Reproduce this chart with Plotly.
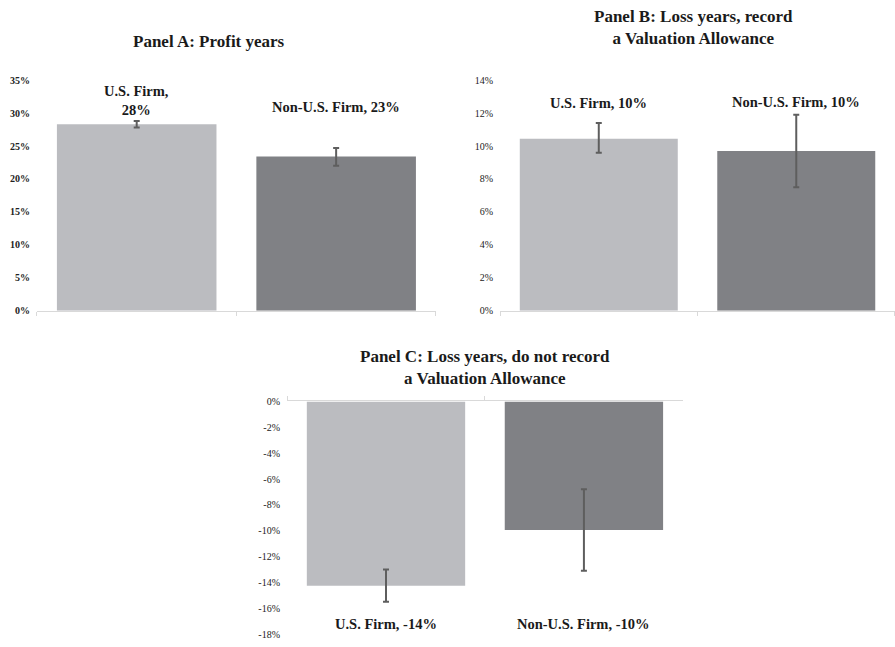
import plotly.graph_objects as go

# Firm groups and mean values (percent) for each panel
firms = ["U.S. Firm", "Non-U.S. Firm"]

profit_vals = [28.3, 23.4]
profit_err_hi = [28.8, 24.7]
profit_err_lo = [27.8, 22.0]

loss_va_vals = [10.45, 9.7]
loss_va_err_hi = [11.4, 11.9]
loss_va_err_lo = [9.6, 7.5]

loss_nova_vals = [-14.25, -9.95]
loss_nova_err_hi = [-13.0, -6.8]
loss_nova_err_lo = [-15.5, -13.1]

tick_a = [0, 5, 10, 15, 20, 25, 30, 35]
tick_b = [0, 2, 4, 6, 8, 10, 12, 14]
tick_c = [0, -2, -4, -6, -8, -10, -12, -14, -16, -18]

bar_colors = ["#bbbcc0", "#808185"]
err_color = "#5e5e5e"
serif = "Liberation Serif, Times New Roman, Times, serif"

fig = go.Figure()


def add_panel(vals, hi, lo, xa, ya):
    fig.add_trace(go.Bar(
        x=firms, y=vals, xaxis=xa, yaxis=ya,
        marker=dict(color=bar_colors, line=dict(width=0)),
        error_y=dict(type="data", symmetric=False,
                     array=[h - v for h, v in zip(hi, vals)],
                     arrayminus=[v - l for l, v in zip(lo, vals)],
                     color=err_color, thickness=2, width=3),
        showlegend=False, hoverinfo="skip"))


add_panel(profit_vals, profit_err_hi, profit_err_lo, "x", "y")
add_panel(loss_va_vals, loss_va_err_hi, loss_va_err_lo, "x2", "y2")
add_panel(loss_nova_vals, loss_nova_err_hi, loss_nova_err_lo, "x3", "y3")


def xaxis(domain, anchor, side="bottom"):
    return dict(domain=domain, anchor=anchor, side=side, showline=True,
                linecolor="#d9d9d9", linewidth=1, ticks="outside",
                tickson="boundaries", ticklen=4, tickcolor="#d9d9d9",
                showticklabels=False, showgrid=False, zeroline=False,
                fixedrange=True)


def yaxis(domain, anchor, rng, tickvals, size, bold):
    return dict(domain=domain, anchor=anchor, range=rng, tickvals=tickvals,
                ticktext=[f"{t}%" for t in tickvals], showgrid=False,
                zeroline=False, showline=False, ticks="",
                ticklabelstandoff=6,
                tickfont=dict(family=serif, size=size, color="#222222",
                              weight="bold" if bold else "normal"),
                fixedrange=True)


fig.update_layout(
    width=895, height=647,
    margin=dict(l=0, r=0, t=0, b=0),
    paper_bgcolor="white", plot_bgcolor="white",
    bargap=0.2,
    font=dict(family=serif),
    xaxis=xaxis([0.0413, 0.487], "y"),
    yaxis=yaxis([0.5193, 0.8818], "x", [0, 35], tick_a, 10, True),
    xaxis2=xaxis([0.5587, 1.0], "y2"),
    yaxis2=yaxis([0.5193, 0.8818], "x2", [0, 14], tick_b, 10, False),
    xaxis3=xaxis([0.3207, 0.763], "y3", side="top"),
    yaxis3=yaxis([0.0108, 0.3766], "x3", [-18, 0], tick_c, 10, False),
)

title_font = dict(family=serif, size=17, color="#1a1a1a", weight="bold")
label_font = dict(family=serif, size=14.5, color="#1a1a1a", weight="bold")

# Panel titles
fig.add_annotation(text="Panel A: Profit years", xref="paper", yref="paper",
                   x=0.2335, y=1 - 37 / 647, showarrow=False, font=title_font,
                   xanchor="center", yanchor="middle")
fig.add_annotation(text="Panel B: Loss years, record<br>a Valuation Allowance",
                   xref="paper", yref="paper", x=0.775, y=1 - 23 / 647,
                   showarrow=False, font=title_font, xanchor="center",
                   yanchor="middle")
fig.add_annotation(text="Panel C: Loss years, do not record<br>a Valuation Allowance",
                   xref="paper", yref="paper", x=0.542, y=1 - 369 / 647,
                   showarrow=False, font=title_font, xanchor="center",
                   yanchor="middle")

# Data labels, text derived from bar values
label_specs = [
    ("x", "y", profit_vals, [31.9, 31.0], [True, False]),
    ("x2", "y2", loss_va_vals, [12.6, 12.7], [False, False]),
    ("x3", "y3", loss_nova_vals, [-17.2, -17.2], [False, False]),
]
for xa, ya, vals, ypos, wraps in label_specs:
    for firm, v, yp, wrap in zip(firms, vals, ypos, wraps):
        sep = ",<br>" if wrap else ", "
        fig.add_annotation(text=f"{firm}{sep}{round(v):d}%", x=firm, y=yp,
                           xref=xa, yref=ya, showarrow=False, font=label_font,
                           xanchor="center", yanchor="middle")

fig.write_html("out.html")
